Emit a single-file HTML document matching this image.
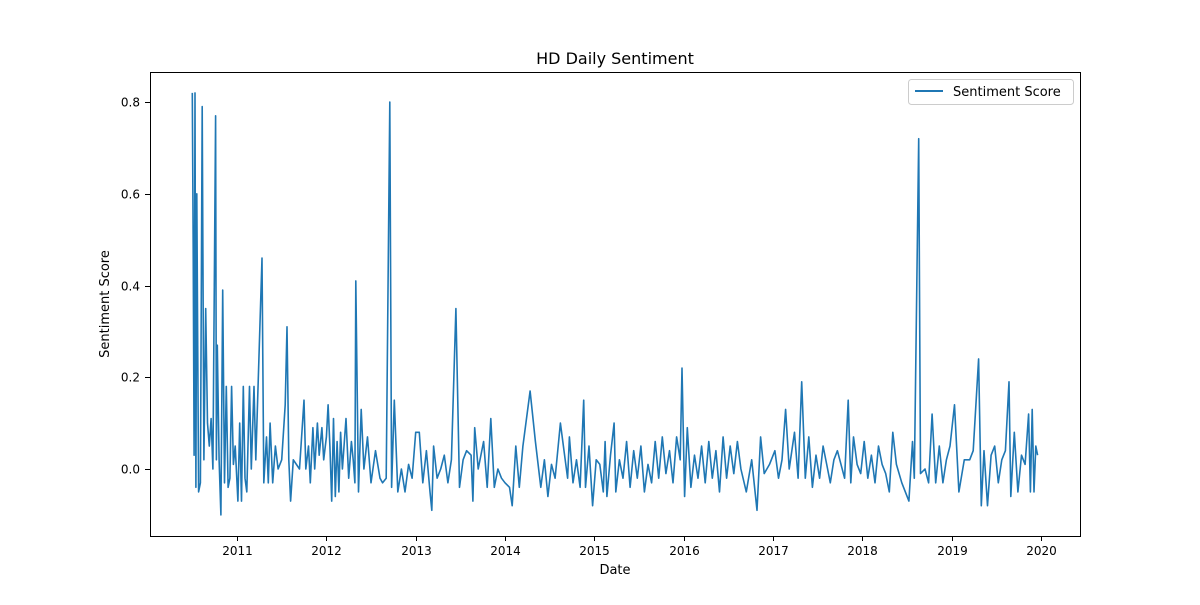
<!DOCTYPE html>
<html><head><meta charset="utf-8"><style>
body{margin:0;background:#fff;}
svg text{font-family:"DejaVu Sans","Liberation Sans",sans-serif;fill:#000;}
</style></head><body>
<svg id="chart" width="1200" height="600" xmlns="http://www.w3.org/2000/svg">
<rect width="1200" height="600" fill="#fff"/>
<text x="615" y="64" font-size="16" text-anchor="middle">HD Daily Sentiment</text>
<text x="615" y="574" font-size="13" text-anchor="middle">Date</text>
<text x="109" y="304" font-size="13" text-anchor="middle" transform="rotate(-90 109 304)">Sentiment Score</text>
<g id="ticks"></g>
<clipPath id="clip"><rect x="150" y="72" width="930" height="464"/></clipPath>
<polyline id="line" fill="none" stroke="#1f77b4" stroke-width="1.6" stroke-linejoin="round" clip-path="url(#clip)"/>
<rect x="150.5" y="72.5" width="930" height="464" fill="none" stroke="#000" stroke-width="1"/>
<g>
<rect x="908.5" y="79.5" width="165" height="25" rx="3" fill="#fff" stroke="#ccc"/>
<line x1="915" y1="91" x2="943" y2="91" stroke="#1f77b4" stroke-width="2"/>
<text x="953" y="96" font-size="13">Sentiment Score</text>
</g>
</svg>
<script>
const xTicks=[2011,2012,2013,2014,2015,2016,2017,2018,2019,2020];
const yTicks=[0,0.2,0.4,0.6,0.8];
const yTickLabels=["0.0","0.2","0.4","0.6","0.8"];
const dates=[2010.50,2010.51,2010.52,2010.53,2010.54,2010.55,2010.57,2010.59,2010.61,2010.63,2010.65,2010.67,2010.69,2010.71,2010.73,2010.76,2010.77,2010.78,2010.80,2010.82,2010.84,2010.86,2010.88,2010.90,2010.92,2010.94,2010.96,2010.98,2011.01,2011.03,2011.05,2011.07,2011.09,2011.11,2011.14,2011.16,2011.19,2011.21,2011.28,2011.30,2011.33,2011.35,2011.37,2011.40,2011.43,2011.46,2011.50,2011.54,2011.56,2011.58,2011.60,2011.63,2011.70,2011.75,2011.77,2011.80,2011.82,2011.85,2011.87,2011.90,2011.92,2011.95,2011.97,2012.00,2012.02,2012.04,2012.06,2012.08,2012.10,2012.12,2012.14,2012.16,2012.18,2012.22,2012.25,2012.28,2012.30,2012.32,2012.33,2012.36,2012.39,2012.42,2012.46,2012.50,2012.55,2012.60,2012.63,2012.67,2012.71,2012.73,2012.76,2012.80,2012.84,2012.88,2012.92,2012.96,2013.00,2013.04,2013.08,2013.12,2013.16,2013.18,2013.20,2013.24,2013.28,2013.32,2013.36,2013.40,2013.45,2013.49,2013.53,2013.57,2013.62,2013.64,2013.66,2013.70,2013.76,2013.80,2013.84,2013.88,2013.92,2013.96,2014.00,2014.05,2014.08,2014.12,2014.16,2014.20,2014.28,2014.34,2014.40,2014.44,2014.48,2014.52,2014.56,2014.62,2014.66,2014.70,2014.72,2014.76,2014.80,2014.84,2014.88,2014.90,2014.94,2014.98,2015.02,2015.06,2015.10,2015.12,2015.14,2015.18,2015.22,2015.24,2015.28,2015.32,2015.36,2015.40,2015.44,2015.48,2015.52,2015.56,2015.60,2015.64,2015.68,2015.72,2015.76,2015.80,2015.84,2015.88,2015.92,2015.96,2015.98,2016.01,2016.04,2016.08,2016.12,2016.16,2016.20,2016.24,2016.28,2016.32,2016.36,2016.40,2016.44,2016.48,2016.52,2016.56,2016.60,2016.64,2016.70,2016.76,2016.82,2016.86,2016.90,2016.96,2017.02,2017.06,2017.10,2017.14,2017.18,2017.24,2017.28,2017.32,2017.36,2017.40,2017.44,2017.48,2017.52,2017.56,2017.60,2017.64,2017.68,2017.72,2017.76,2017.80,2017.84,2017.87,2017.90,2017.94,2017.98,2018.02,2018.06,2018.10,2018.14,2018.18,2018.22,2018.26,2018.30,2018.34,2018.38,2018.44,2018.52,2018.56,2018.58,2018.63,2018.65,2018.70,2018.74,2018.78,2018.82,2018.86,2018.90,2018.94,2018.98,2019.03,2019.08,2019.14,2019.20,2019.24,2019.30,2019.33,2019.36,2019.40,2019.44,2019.48,2019.52,2019.56,2019.60,2019.64,2019.66,2019.70,2019.74,2019.78,2019.82,2019.86,2019.88,2019.90,2019.92,2019.94,2019.96];
const scores=[0.82,0.48,0.03,0.82,-0.04,0.60,-0.05,-0.03,0.79,0.02,0.35,0.10,0.05,0.11,0.00,0.77,0.02,0.27,0.02,-0.10,0.39,-0.03,0.18,-0.04,-0.02,0.18,0.01,0.05,-0.07,0.10,-0.07,0.18,-0.02,-0.05,0.18,0.00,0.18,0.02,0.46,-0.03,0.07,-0.03,0.10,-0.03,0.05,0.00,0.02,0.14,0.31,0.02,-0.07,0.02,0.00,0.15,0.00,0.05,-0.03,0.09,0.00,0.10,0.03,0.09,0.02,0.07,0.14,0.05,-0.07,0.11,-0.06,0.06,-0.05,0.08,0.00,0.11,-0.02,0.06,0.02,-0.03,0.41,-0.05,0.13,0.00,0.07,-0.03,0.04,-0.02,-0.03,-0.02,0.80,-0.04,0.15,-0.05,0.00,-0.05,0.01,-0.02,0.08,0.08,-0.03,0.04,-0.05,-0.09,0.05,-0.02,0.00,0.03,-0.03,0.02,0.35,-0.04,0.02,0.04,0.03,-0.07,0.09,0.00,0.06,-0.04,0.11,-0.04,0.00,-0.02,-0.03,-0.04,-0.08,0.05,-0.04,0.05,0.17,0.06,-0.04,0.02,-0.06,0.01,-0.02,0.10,0.04,-0.02,0.07,-0.03,0.02,-0.04,0.15,-0.04,0.05,-0.08,0.02,0.01,-0.05,0.06,-0.06,0.03,0.10,-0.05,0.02,-0.02,0.06,-0.04,0.04,-0.02,0.05,-0.05,0.01,-0.03,0.06,-0.02,0.07,-0.01,0.04,-0.03,0.07,0.02,0.22,-0.06,0.09,-0.04,0.03,-0.02,0.05,-0.03,0.06,-0.02,0.04,-0.05,0.07,-0.02,0.05,-0.01,0.06,0.00,-0.05,0.02,-0.09,0.07,-0.01,0.01,0.04,-0.02,0.02,0.13,0.00,0.08,-0.02,0.19,-0.02,0.07,-0.04,0.03,-0.02,0.05,0.01,-0.03,0.02,0.04,0.01,-0.02,0.15,-0.03,0.07,0.01,-0.01,0.06,-0.02,0.03,-0.03,0.05,0.01,-0.01,-0.05,0.08,0.01,-0.03,-0.07,0.06,-0.02,0.72,-0.01,0.00,-0.03,0.12,-0.03,0.05,-0.03,0.02,0.05,0.14,-0.05,0.02,0.02,0.04,0.24,-0.08,0.04,-0.08,0.03,0.05,-0.03,0.02,0.04,0.19,-0.06,0.08,-0.05,0.03,0.01,0.12,-0.05,0.13,-0.05,0.05,0.03];
function X(y){return 237+(y-2011)*89.35;}
function Y(v){return 469-v*458.7;}
const ns="http://www.w3.org/2000/svg";
const g=document.getElementById('ticks');
function mk(tag,attrs){const e=document.createElementNS(ns,tag);for(const k in attrs)e.setAttribute(k,attrs[k]);g.appendChild(e);return e;}
xTicks.forEach(t=>{
  const x=Math.round(X(t))+0.5;
  const l=mk('line',{x1:x,x2:x,y1:536,y2:541,stroke:'#000'});
  
  
  const tx=mk('text',{x:x,y:555,'font-size':12,'text-anchor':'middle'});
  tx.textContent=t;
  
  
});
yTicks.forEach((t,i)=>{
  const y=Math.round(Y(t))+0.5;
  const l=mk('line',{x1:145,x2:150,y1:y,y2:y,stroke:'#000'});
  
  
  const tx=mk('text',{x:140,y:y+4,'font-size':12,'text-anchor':'end'});
  tx.textContent=yTickLabels[i];
  
  
});
document.getElementById('line').setAttribute('points',dates.map((d,i)=>X(d).toFixed(1)+','+Y(scores[i]).toFixed(1)).join(' '));
</script>
</body></html>
